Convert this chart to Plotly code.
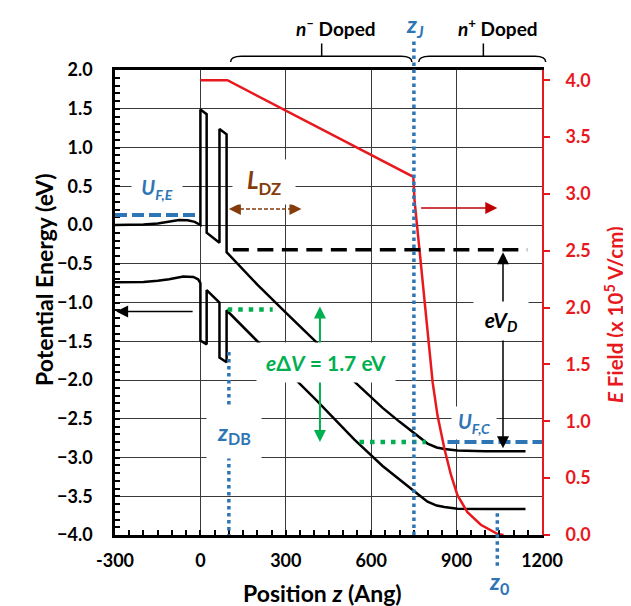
import plotly.graph_objects as go

# ---------------- data ----------------
# upper band (black), position z in Angstrom, potential energy in eV
cb_z = [-300, -200, -150, -110, -75, -45, -20, -5, 0,
        0, 22, 22, 67, 67, 92, 92,
        200, 300, 407, 541, 640, 700, 740, 770, 798, 830, 857, 903, 1000, 1142]
cb_e = [0.0, 0.005, 0.02, 0.045, 0.065, 0.06, 0.04, 0.01, 0.0,
        1.49, 1.43, -0.10, -0.23, 1.24, 1.17, -0.35,
        -0.77, -1.13, -1.51, -2.02, -2.36, -2.54, -2.65, -2.74, -2.82, -2.87, -2.89, -2.91, -2.92, -2.92]

# lower band (black)
vb_z = [-300, -200, -150, -110, -60, -25, -8, 0,
        0, 22, 22, 67, 67, 92, 92,
        207, 300, 407, 541, 640, 700, 740, 770, 798, 830, 857, 903, 1000, 1142]
vb_e = [-0.74, -0.735, -0.72, -0.70, -0.665, -0.67, -0.70, -0.75,
        -1.49, -1.54, -0.84, -1.0, -1.71, -1.77, -1.10,
        -1.53, -1.87, -2.26, -2.77, -3.11, -3.29, -3.40, -3.49, -3.57, -3.62, -3.64, -3.66, -3.665, -3.665]

# electric field (red, right axis, x 1e5 V/cm)
ef_z = [0, 95, 748, 752, 770, 789, 798, 816, 833, 857, 880, 903, 938, 985, 1043, 1065]
ef_v = [4.0, 4.0, 3.15, 2.95, 2.5, 2.0, 1.78, 1.34, 1.05, 0.76, 0.53, 0.35, 0.20, 0.09, 0.01, 0.0]

x_ticks = [-300, 0, 300, 600, 900, 1200]
y_ticks = [2.0, 1.5, 1.0, 0.5, 0.0, -0.5, -1.0, -1.5, -2.0, -2.5, -3.0, -3.5, -4.0]
y2_ticks = [0.0, 0.5, 1.0, 1.5, 2.0, 2.5, 3.0, 3.5, 4.0]

# reference levels / positions
U_FE = 0.13
U_FC = -2.80
EVD_TOP = -0.32
DV_TOP = -1.09
Z_DB = 100
Z_J = 750
Z_0 = 1043

# ---------------- styles ----------------
FONT = "Lato"
BLUE = "#2E75B6"
GREEN = "#00B050"
BROWN = "#843C0C"
RED = "#E8191E"
DRED = "#C00000"
GRID = "#3a3a3a"

X0, X1 = -300, 1200
def px(z):  # z (Angstrom) -> paper x
    return (z - X0) / (X1 - X0)

fig = go.Figure()
fig.add_trace(go.Scatter(x=cb_z, y=cb_e, mode="lines",
                         line=dict(color="black", width=2.5), hoverinfo="skip"))
fig.add_trace(go.Scatter(x=vb_z, y=vb_e, mode="lines",
                         line=dict(color="black", width=2.5), hoverinfo="skip"))
fig.add_trace(go.Scatter(x=ef_z, y=ef_v, mode="lines", yaxis="y2",
                         line=dict(color=RED, width=2.5), hoverinfo="skip"))

shapes = []
def hline(x0, x1, y, color, width, dash):
    shapes.append(dict(type="line", xref="x", yref="y", x0=x0, x1=x1, y0=y, y1=y,
                       line=dict(color=color, width=width, dash=dash)))
def vline(x, y0, y1, yref, color, width, dash):
    shapes.append(dict(type="line", xref="x", yref=yref, x0=x, x1=x, y0=y0, y1=y1,
                       line=dict(color=color, width=width, dash=dash)))

hline(-300, -12, U_FE, BLUE, 4, "12px,5px")
hline(868, 1200, U_FC, BLUE, 4, "12px,5px")
hline(114, 1148, EVD_TOP, "black", 3.5, "16px,8.5px")
hline(96, 254, DV_TOP, GREEN, 4.5, "4.5px,6px")
hline(559, 792, U_FC, GREEN, 4.5, "4.5px,6px")
hline(118, 340, 0.205, BROWN, 1.5, "4px,2px")
vline(Z_DB, -1.64, -4.0, "y", BLUE, 3.5, "3.5px,3.5px")
vline(Z_J, 0, 1.066, "paper", BLUE, 3.5, "3.5px,3.5px")
vline(Z_0, (-3.72 + 4) / 6, -0.067, "paper", BLUE, 3.5, "3.5px,3.5px")

# braces above the plot
yl, yh, yt = 1.0297, 1.0172, 1.0569
def brace(z0, z1, zc):
    a, b, c = px(z0), px(z1), px(zc)
    r = 0.025
    path = (f"M{a},{yh} Q{a},{yl} {a + r},{yl} L{b - r},{yl} Q{b},{yl} {b},{yh} "
            f"M{c},{yl} L{c},{yt}")
    shapes.append(dict(type="path", xref="paper", yref="paper", path=path,
                       line=dict(color="black", width=1.5)))
brace(106, 743, 426)
brace(767, 1213, 994)

ann = []
def label(x, y, text, color, size, xref="x", yref="y", bg=None, w=None, h=None, pad=1, angle=0):
    d = dict(x=x, y=y, xref=xref, yref=yref, text=text, showarrow=False,
             xanchor="center", yanchor="middle", textangle=angle,
             font=dict(family=FONT, size=size, color=color, weight="bold"),
             borderpad=pad)
    if bg:
        d["bgcolor"] = bg
    if w:
        d["width"] = w
    if h:
        d["height"] = h
    ann.append(d)

def arrow(x, y, ax, ay, color, width, size, both=False):
    ann.append(dict(x=x, y=y, ax=ax, ay=ay, xref="x", yref="y", axref="x", ayref="y",
                    text="", showarrow=True, arrowhead=2, arrowsize=size, arrowwidth=width,
                    arrowcolor=color, arrowside="end+start" if both else "end"))

arrow(420, -1.05, 420, -2.82, GREEN, 2, 1.2, both=True)
arrow(1063, -0.35, 1063, -2.90, "black", 1.5, 1.6, both=True)
arrow(-296, -1.115, -22, -1.115, "black", 1.5, 1.6)
arrow(1043, 0.22, 770, 0.22, DRED, 1.5, 1.6)
arrow(100, 0.205, 124, 0.205, BROWN, 1.5, 1.6)
arrow(355, 0.205, 331, 0.205, BROWN, 1.5, 1.6)

label(-153, 0.46, "<i>U</i><sub><i>F,E</i></sub>", BLUE, 20, bg="white", w=48, h=30)
label(222, 0.55, "<i>L</i><sub>DZ</sub>", BROWN, 24, bg="white", w=60, h=42)
label(1055, -1.24, "<i>eV</i><sub><i>D</i></sub>", "black", 21, bg="white", w=52, h=36)
label(442, -1.77, "<i>e</i>Δ<i>V</i> = 1.7 eV", GREEN, 21, bg="white", w=136, h=37)
label(962, -2.56, "<i>U</i><sub><i>F,C</i></sub>", BLUE, 20, bg="white", w=42, h=30)
label(118, -2.69, "<i>z</i><sub>DB</sub>", BLUE, 23, bg="white", w=52, h=48)
label(Z_J + 5, 1.0956, "<i>z</i><sub><i>J</i></sub>", BLUE, 23, yref="paper")
label(Z_0 + 5, -0.103, "<i>z</i><sub>0</sub>", BLUE, 23, yref="paper")
label(477, 1.0906, "<i>n</i><sup>–</sup> Doped", "black", 19, yref="paper")
label(1047, 1.0906, "<i>n</i><sup>+</sup> Doped", "black", 19, yref="paper")

# axis titles
label(-0.1646, 0.55, "Potential Energy (eV)", "black", 23, xref="paper", yref="paper", angle=-90)
label(1.1686, 0.475, "<i>E</i> Field (x 10<sup>5</sup> V/cm)", RED, 20.5, xref="paper", yref="paper", angle=-90)
label(0.487, -0.1246, "Position <i>z</i> (Ang)", "black", 23, xref="paper", yref="paper")

tickfont = dict(family=FONT, size=18, color="black", weight="bold")
fig.update_layout(
    width=631, height=606,
    margin=dict(l=107, r=97, t=62, b=79, autoexpand=False),
    plot_bgcolor="white", paper_bgcolor="white",
    showlegend=False,
    shapes=shapes, annotations=ann,
    xaxis=dict(range=[X0, X1], tickvals=x_ticks, ticktext=[str(v) for v in x_ticks],
               showgrid=True, gridcolor=GRID, gridwidth=1, automargin=False,
               showline=True, linecolor="black", linewidth=2.5, mirror=True,
               ticks="inside", ticklen=5, tickwidth=1.5, tickcolor="black",
               minor=dict(dtick=50, ticks="inside", ticklen=5, tickwidth=1.5, tickcolor="black", showgrid=False),
               zeroline=False, tickfont=tickfont, ticklabelstandoff=8),
    yaxis=dict(range=[-4, 2], tickvals=y_ticks, tickformat=".1f", automargin=False,
               showgrid=True, gridcolor=GRID, gridwidth=1,
               showline=True, linecolor="black", linewidth=2.5,
               ticks="inside", ticklen=5, tickwidth=1.5, tickcolor="black",
               minor=dict(dtick=0.1, ticks="inside", ticklen=5, tickwidth=1.5, tickcolor="black", showgrid=False),
               zeroline=False, tickfont=tickfont, ticklabelstandoff=16),
    yaxis2=dict(range=[0, 4.09], tickvals=y2_ticks, tickformat=".1f", overlaying="y", side="right",
                showgrid=False, showline=True, linecolor=RED, linewidth=2, automargin=False,
                ticks="outside", ticklen=6, tickwidth=1.5, tickcolor=RED,
                zeroline=False, tickfont=dict(family=FONT, size=18, color=RED, weight="bold"),
                ticklabelstandoff=12),
)

fig.write_html("out.html")
